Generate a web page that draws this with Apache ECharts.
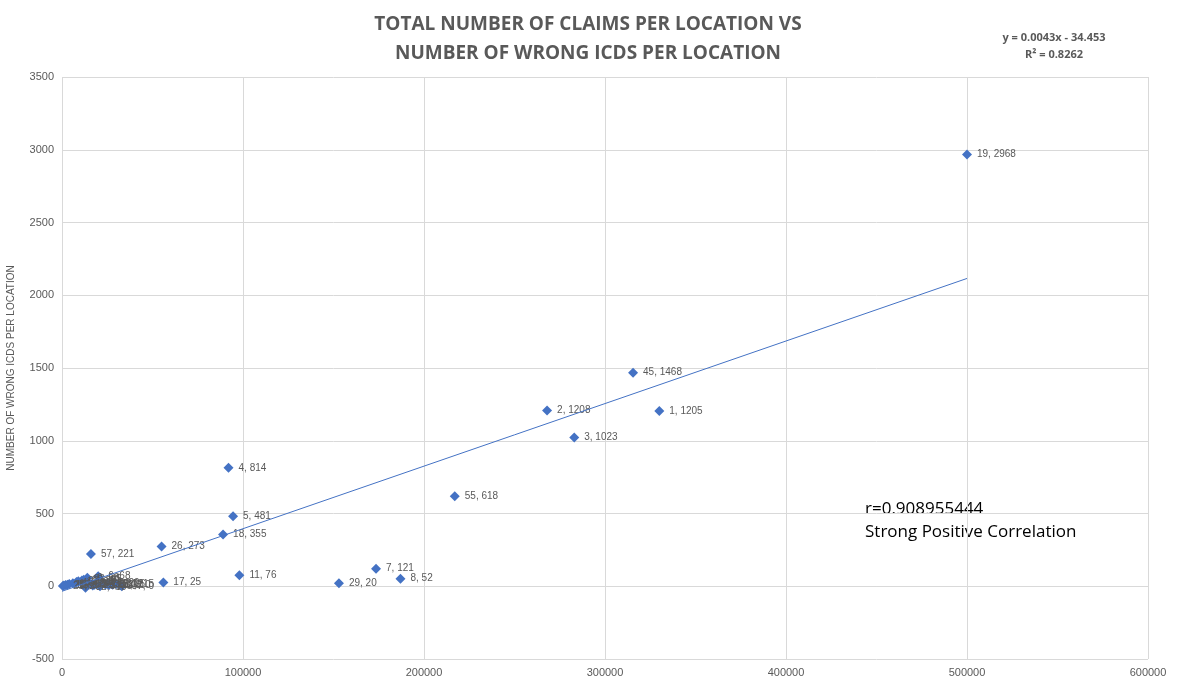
<!DOCTYPE html>
<html lang="en">
<head>
    <meta charset="UTF-8">
    <title>Claims vs wrong ICDs</title>
    <script src="https://cdn.jsdelivr.net/npm/echarts@6/dist/echarts.min.js"></script>
    <style>
        body { margin: 0; background: #fff; }
        #main { width: 1178px; height: 682px; }
    </style>
</head>
<body>
    <div id="main"></div>
    <script>
        // location id, total claims, wrong ICDs
        var ids = [19, 45, 1, 2, 3, 55, 4, 5, 18, 26, 57, 17, 11, 29, 7, 8, 37,
            6, 9, 10, 12, 13, 14, 15, 16, 20, 21, 22, 23, 24, 25, 27, 28, 30, 31, 32, 33, 34, 35, 36];
        var claims = [500000, 315500, 330000, 268000, 283000, 217000, 92000, 94500, 89000, 55000, 16000, 56000, 98000, 153000, 173500, 187000, 33000,
            20000, 14000, 11000, 8000, 6000, 4000, 3000, 2000, 1000, 500, 9000, 12000, 16000, 18000, 22000, 25000, 28000, 30000, 13000, 17000, 21000, 24000, 26000];
        var wrong = [2968, 1468, 1205, 1208, 1023, 618, 814, 481, 355, 273, 221, 25, 76, 20, 121, 52, 0,
            68, 58, 40, 30, 20, 15, 10, 8, 5, 2, 35, 45, 15, 10, 20, 15, 10, 15, -10, 5, 0, 12, 8];
        var trend = { slope: 0.0043, intercept: -34.453, xMin: 0, xMax: 500000 };

        var myChart = echarts.init(document.getElementById('main'));
        var pts = [];
        for (var i = 0; i < ids.length; i++) {
            pts.push({ value: [claims[i], wrong[i]], name: ids[i] + ', ' + wrong[i] });
        }
        var option = {
            title: [{
                text: 'TOTAL NUMBER OF CLAIMS PER LOCATION VS\nNUMBER OF WRONG ICDS PER LOCATION',
                left: 583, top: 5, textAlign: 'center',
                textStyle: { color: '#595959', fontSize: 19, fontWeight: 'bold', lineHeight: 29, fontFamily: 'Open Sans' }
            }, {
                text: 'y = 0.0043x - 34.453\nR² = 0.8262',
                left: 1049, top: 24, textAlign: 'center',
                textStyle: { color: '#595959', fontSize: 11, fontWeight: 'bold', lineHeight: 17, fontFamily: 'Open Sans' }
            }],
            graphic: [{
                type: 'text', left: 865, top: 498,
                style: { text: 'r=0.908955444\nStrong Positive Correlation', fill: '#000', font: '17px "Open Sans"', lineHeight: 23 }
            }],
            grid: { left: 62, right: 30, top: 77, bottom: 23, containLabel: false, outerBoundsMode: 'none' },
            xAxis: {
                type: 'value', min: 0, max: 600000, interval: 100000,
                name: 'TOTAL NUMBER OF CLAIMS PER LOCATION', nameLocation: 'middle', nameGap: 10,
                nameTextStyle: { color: '#595959', fontSize: 10 },
                axisLine: { onZero: true, lineStyle: { color: '#d9d9d9' } },
                axisTick: { show: false },
                axisLabel: { color: '#595959', fontSize: 11, showMaxLabel: true, formatter: function (v) { return String(v); } },
                splitLine: { lineStyle: { color: '#d9d9d9' } }
            },
            yAxis: {
                type: 'value', min: -500, max: 3500, interval: 500,
                name: 'NUMBER OF WRONG ICDS PER LOCATION', nameLocation: 'middle', nameGap: 46,
                nameTextStyle: { color: '#595959', fontSize: 10 },
                axisLine: { show: false }, axisTick: { show: false },
                axisLabel: { color: '#595959', fontSize: 11, formatter: function (v) { return String(v); } },
                splitLine: { lineStyle: { color: '#d9d9d9' } }
            },
            series: [{
                type: 'scatter', data: pts, symbol: 'diamond', symbolSize: 10,
                itemStyle: { color: '#4472c4', opacity: 1 },
                label: { show: true, position: 'right', formatter: '{b}', color: '#595959', fontSize: 10 }
            }, {
                type: 'line', symbol: 'none', silent: true,
                data: [[trend.xMin, trend.intercept + trend.slope * trend.xMin], [trend.xMax, trend.intercept + trend.slope * trend.xMax]],
                lineStyle: { color: '#4472c4', width: 1 }
            }]
        };
        myChart.setOption(option);
    </script>
</body>
</html>
